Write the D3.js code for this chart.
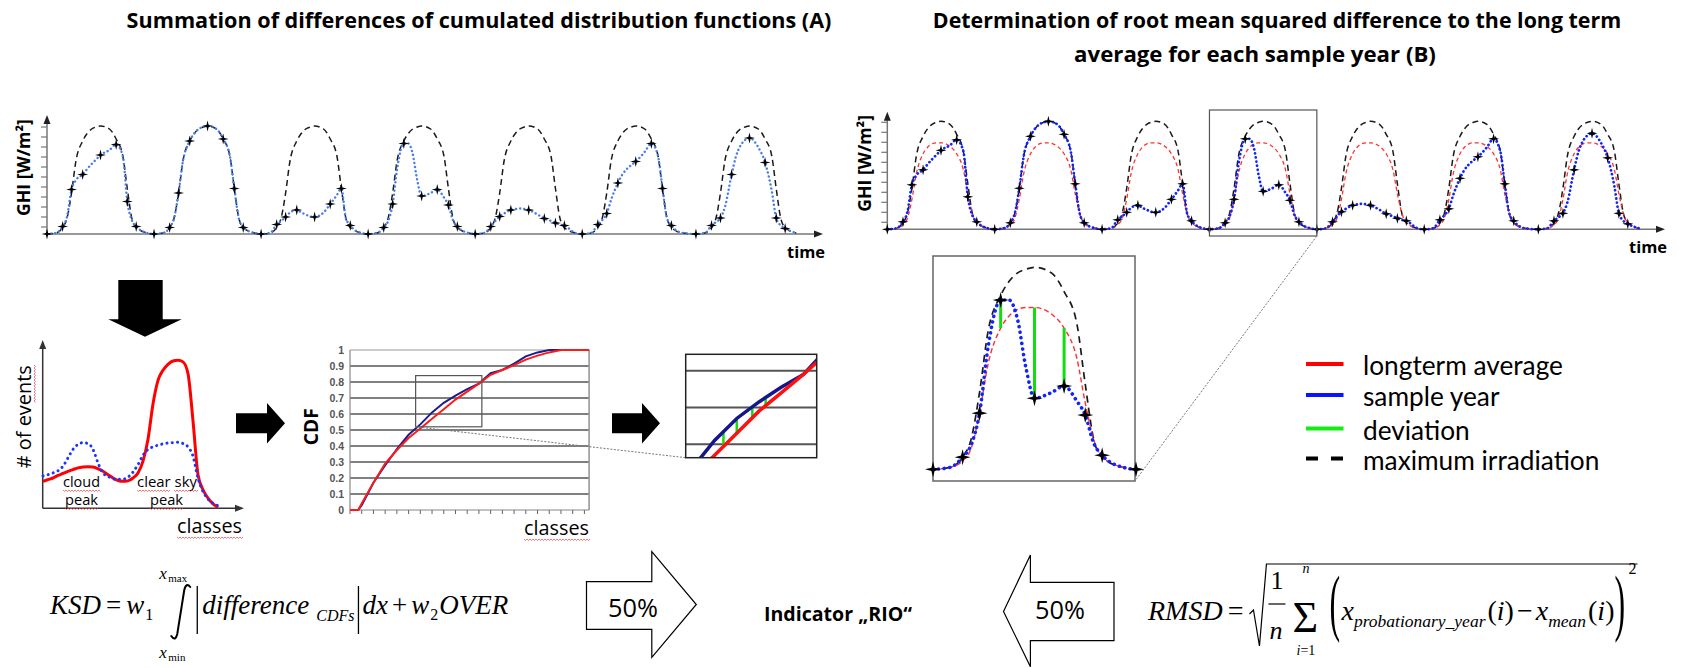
<!DOCTYPE html>
<html>
<head>
<meta charset="utf-8">
<script src="https://cdnjs.cloudflare.com/ajax/libs/d3/7.8.5/d3.min.js"></script>
<style>
  body { margin: 0; background: #fff; }
  svg { display: block; }
</style>
</head>
<body>
<svg id="chart" width="1682" height="668"></svg>
<script>
// ---- irradiation time series (hours, W/m2) ----
const dayHours = [0, 2, 3.5, 4.5, 5.5, 6.5, 8, 9, 10, 11, 12, 14, 15.5, 17, 18, 19, 20, 22.5]
const dayStarts = [0, 24, 48, 72, 96, 120, 145.5]
const markerHours = [0, 3.5, 5.5, 8, 12, 15.5, 18, 20]
const ghiTicks = [70, 170, 270, 370, 470, 570, 670, 770, 870, 970, 1070]

const maxIrradiation = [0, 10, 65, 160, 410, 735, 930, 1005, 1050, 1070, 1080, 1050, 950, 780, 455, 160, 65, 10]
const longtermAverage = [0, 10, 45, 110, 300, 560, 755, 820, 855, 865, 865, 830, 755, 595, 355, 160, 65, 10]
const sampleYear = [
  [0, 10, 75, 175, 445, 540, 595, 650, 700, 745, 790, 840, 895, 780, 325, 140, 75, 10],
  [0, 10, 65, 160, 410, 735, 930, 1005, 1050, 1070, 1080, 1050, 950, 780, 455, 160, 65, 10],
  [0, 10, 95, 130, 170, 215, 240, 215, 195, 175, 170, 215, 300, 390, 455, 160, 85, 10],
  [0, 10, 65, 130, 300, 650, 905, 905, 800, 540, 380, 410, 445, 365, 290, 140, 75, 10],
  [0, 10, 75, 130, 175, 205, 240, 250, 255, 250, 240, 195, 155, 130, 110, 95, 85, 10],
  [0, 10, 95, 140, 205, 345, 510, 595, 650, 690, 725, 820, 905, 780, 455, 160, 85, 10],
  [0, 10, 85, 120, 160, 270, 595, 780, 885, 940, 960, 865, 715, 430, 160, 85, 55, 10]
]
const zoomDay = 3
const deviationHours = [8, 12, 15.5]

// ---- histogram of classes (# of events) ----
const histLongterm = [16, 17, 18, 19.5, 20.7, 22, 23, 24, 24.5, 24.7, 24.5, 23.5, 22, 20, 18, 16.5, 16, 16.3, 18, 21, 28, 41, 62, 76, 82, 85.5, 87.5, 88, 87, 80, 52, 20, 11, 6, 2.6, 0.5]
const histSample = [19.2, 20, 21, 22.3, 25, 30, 35, 38, 39, 38.5, 35, 27, 21, 19, 17.6, 17.2, 17.3, 18.5, 21.5, 26, 31.5, 35, 36.5, 37.5, 38.3, 38.8, 39, 39.2, 38.5, 36.5, 31, 18, 10, 5.5, 3, 1.5]

// ---- cumulated distribution functions ----
const cdfClasses = [0, 0.7, 1, 2, 3, 4, 5, 6, 7, 8, 9, 10, 11, 12, 13, 14, 15, 16, 17, 18, 19, 20, 20.4]
const cdfSample = [0, 0, 0.03, 0.17, 0.28, 0.38, 0.47, 0.535, 0.61, 0.67, 0.715, 0.755, 0.79, 0.855, 0.875, 0.915, 0.96, 0.985, 1, 1, 1, 1, 1]
const cdfLongterm = [0, 0, 0.04, 0.17, 0.29, 0.375, 0.45, 0.51, 0.57, 0.63, 0.69, 0.74, 0.79, 0.845, 0.875, 0.905, 0.94, 0.965, 0.985, 1, 1, 1, 1]
const cdfTicks = [0, 0.1, 0.2, 0.3, 0.4, 0.5, 0.6, 0.7, 0.8, 0.9, 1]
const cdfTickClasses = [0, 1, 2, 3, 4, 5, 6, 7, 8, 9, 10, 11, 12, 13, 14, 15, 16, 17, 18, 19, 20]
const cdfZoomBox = { classes: [5.6, 11.25], values: [0.52, 0.84] }
const cdfPanel = { classes: [5.7, 11.6], values: [0.563, 0.845], grid: [0.6, 0.7, 0.8] }
const cdfDeviationClasses = [7.4, 8, 8.7, 9.3]

const legendLabels = ['longterm average', 'sample year', 'deviation', 'maximum irradiation']

const svg = d3.select('#chart')
const sans = '"Open Sans", sans-serif'
const serif = '"Liberation Serif", "Times New Roman", serif'

function fit(sel, w) {
  const fs = parseFloat(sel.attr('font-size'))
  const len = sel.node().getComputedTextLength()
  sel.attr('font-size', fs * w / len)
}

function label(g, x, y, txt, size, w, opts = {}) {
  const t = g.append('text')
    .attr('x', x).attr('y', y)
    .attr('text-anchor', opts.anchor || 'middle')
    .attr('font-family', opts.family || sans)
    .attr('font-size', size)
    .attr('font-weight', opts.bold ? 'bold' : 'normal')
    .attr('fill', opts.fill || '#000')
    .text(txt)
  if (w) fit(t, w)
  if (opts.rotate) t.attr('transform', `rotate(-90,${x},${y})`)
  return t
}

function squiggle(g, x1, x2, y) {
  let d = `M${x1},${y}`
  for (let x = x1, k = 0; x < x2; x += 1.5, k++) d += `L${x + 1.5},${y + (k % 2 ? 0 : 1.4)}`
  g.append('path').attr('d', d).attr('fill', 'none').attr('stroke', '#e04040').attr('stroke-width', 0.7)
}

const star = {
  draw(ctx, size) {
    const r = Math.sqrt(size), w = r * 0.2
    ctx.moveTo(0, -r); ctx.lineTo(w, -w); ctx.lineTo(r, 0); ctx.lineTo(w, w)
    ctx.lineTo(0, r); ctx.lineTo(-w, w); ctx.lineTo(-r, 0); ctx.lineTo(-w, -w); ctx.closePath()
  }
}

function arrowUp(g, x, y, col) {
  g.append('path').attr('d', `M${x},${y}L${x - 3.5},${y + 9}L${x + 3.5},${y + 9}Z`).attr('fill', col)
}
function arrowRight(g, x, y, col) {
  g.append('path').attr('d', `M${x},${y}L${x - 9},${y - 3.5}L${x - 9},${y + 3.5}Z`).attr('fill', col)
}

// ---- titles ----
const tg = svg.append('g')
label(tg, 479, 28, 'Summation of differences of cumulated distribution functions (A)', 18, 705, { bold: true })
label(tg, 1277, 28, 'Determination of root mean squared difference to the long term', 18, 689, { bold: true })
label(tg, 1255, 62, 'average for each sample year (B)', 18, 362, { bold: true })

// ---- day charts ----
const daySeries = perDay => dayStarts.flatMap((s, d) => dayHours.map((h, i) => ({ t: s + h, v: perDay(d)[i] })))
const maxPts = daySeries(() => maxIrradiation)
const avgPts = daySeries(() => longtermAverage)
const samplePts = daySeries(d => sampleYear[d])
const markerPts = dayStarts.flatMap((s, d) => markerHours.map(h => ({ t: s + h, v: sampleYear[d][dayHours.indexOf(h)] })))

function dayChart(o) {
  const x = d3.scaleLinear([0, 168], [o.x0, o.x1])
  const y = d3.scaleLinear([0, 1100], [o.base, o.base - 110])
  const g = svg.append('g')
  const line = d3.line().x(d => x(d.t)).y(d => y(d.v)).curve(d3.curveMonotoneX)

  g.append('line').attr('x1', o.x0).attr('x2', o.x0).attr('y1', o.base).attr('y2', o.top + 8)
    .attr('stroke', '#777').attr('stroke-width', 1.5)
  arrowUp(g, o.x0, o.top, '#222')
  g.selectAll('line.tick').data(ghiTicks).join('line').attr('class', 'tick')
    .attr('x1', o.x0 - 6).attr('x2', o.x0).attr('y1', d => y(d)).attr('y2', d => y(d))
    .attr('stroke', '#777').attr('stroke-width', 1.2)
  g.append('line').attr('x1', o.x0).attr('x2', o.xEnd - 8).attr('y1', o.base).attr('y2', o.base)
    .attr('stroke', '#777').attr('stroke-width', 1.5)
  arrowRight(g, o.xEnd, o.base, '#222')

  g.append('path').attr('d', line(maxPts)).attr('fill', 'none')
    .attr('stroke', '#1a1a1a').attr('stroke-width', 1.5).attr('stroke-dasharray', '6,4')
  if (o.avg) {
    g.append('path').attr('d', line(avgPts)).attr('fill', 'none')
      .attr('stroke', '#ff3030').attr('stroke-width', 1.3).attr('stroke-dasharray', '4,3')
  }
  g.append('path').attr('d', line(samplePts)).attr('fill', 'none')
    .attr('stroke', o.blue).attr('stroke-width', o.blueWidth).attr('stroke-linecap', 'round')
    .attr('stroke-dasharray', '0.1,4')
  g.selectAll('path.mk').data(markerPts).join('path').attr('class', 'mk')
    .attr('transform', d => `translate(${x(d.t)},${y(d.v)})`)
    .attr('d', d3.symbol().type(star).size(30)).attr('fill', '#000')

  label(g, o.labelX, o.labelY, 'GHI [W/m²]', 16, 97, { bold: true, rotate: true })
  label(g, o.timeX, o.timeY, 'time', 18, 38, { bold: true })
  return { x, y }
}

dayChart({ x0: 47, x1: 796.3, xEnd: 823, base: 234, top: 115, blue: '#4a7de6', blueWidth: 2.4,
  labelX: 30, labelY: 167.5, timeX: 806, timeY: 258 })
const right = dayChart({ x0: 887.3, x1: 1639, xEnd: 1665, base: 229.3, top: 111.7, avg: true, blue: '#1024ff', blueWidth: 2.7,
  labelX: 871, labelY: 163.3, timeX: 1648, timeY: 253 })

// selection box and enlarged day
const t0 = dayStarts[zoomDay], t1 = dayStarts[zoomDay + 1]
const zg = svg.append('g')
zg.append('rect').attr('x', right.x(t0)).attr('y', 110).attr('width', right.x(t1) - right.x(t0)).attr('height', 126)
  .attr('fill', 'none').attr('stroke', '#555').attr('stroke-width', 1.2)
const inset = { x: 933, y: 256, w: 202, h: 225 }
zg.append('line').attr('x1', right.x(t1)).attr('y1', 236).attr('x2', inset.x + inset.w).attr('y2', inset.y + inset.h)
  .attr('stroke', '#777').attr('stroke-width', 1).attr('stroke-dasharray', '2,1.5')
zg.append('rect').attr('x', inset.x).attr('y', inset.y).attr('width', inset.w).attr('height', inset.h)
  .attr('fill', '#fff').attr('stroke', '#666').attr('stroke-width', 1.5)

const ix = d3.scaleLinear([t0, t1], [inset.x, inset.x + inset.w + 1])
const iy = d3.scaleLinear([0, 1080], [469.3, 267.3])
const iline = d3.line().x(d => ix(d.t)).y(d => iy(d.v)).curve(d3.curveMonotoneX)
const inDay = d => d.t >= t0 && d.t <= t1
zg.append('path').attr('d', iline(maxPts.filter(inDay))).attr('fill', 'none')
  .attr('stroke', '#1a1a1a').attr('stroke-width', 1.7).attr('stroke-dasharray', '7,5')
zg.append('path').attr('d', iline(avgPts.filter(inDay))).attr('fill', 'none')
  .attr('stroke', '#ff3030').attr('stroke-width', 1.4).attr('stroke-dasharray', '5,3')
zg.selectAll('line.dev').data(deviationHours).join('line').attr('class', 'dev')
  .attr('x1', h => ix(t0 + h)).attr('x2', h => ix(t0 + h))
  .attr('y1', h => iy(longtermAverage[dayHours.indexOf(h)]))
  .attr('y2', h => iy(sampleYear[zoomDay][dayHours.indexOf(h)]))
  .attr('stroke', '#11dd11').attr('stroke-width', 3)
zg.append('path').attr('d', iline(samplePts.filter(inDay))).attr('fill', 'none')
  .attr('stroke', '#1024ff').attr('stroke-width', 3.6).attr('stroke-linecap', 'round').attr('stroke-dasharray', '0.1,5.5')
zg.selectAll('path.mk').data(markerPts.filter(inDay)).join('path').attr('class', 'mk')
  .attr('transform', d => `translate(${ix(d.t)},${iy(d.v)})`)
  .attr('d', d3.symbol().type(star).size(64)).attr('fill', '#000')

// legend
const lg = svg.append('g')
const legendRows = [364, 395, 428.5, 458.5]
const legendColors = ['#ff0000', '#0a14ff', '#11ee11', '#000']
legendLabels.forEach((txt, i) => {
  lg.append('line').attr('x1', 1306).attr('x2', 1343.5).attr('y1', legendRows[i]).attr('y2', legendRows[i])
    .attr('stroke', legendColors[i]).attr('stroke-width', 4)
    .attr('stroke-dasharray', i === 3 ? '12,13' : null)
  const t = label(lg, 1363, legendRows[i] + 11, txt, 22, null, { anchor: 'start', family: 'Lato, sans-serif' })
  if (i === 0) fit(t, 200)
  if (i > 0) t.attr('font-size', lg.select('text').attr('font-size'))
})

// ---- flow arrows ----
const ag = svg.append('g')
ag.append('path').attr('d', 'M118.3,280H162.7V319.3H181.7L145,336.7L108.3,319.3H118.3Z').attr('fill', '#000')
ag.append('path').attr('d', 'M236,413.3H267V403L285,423.3L267,443.6V433.3H236Z').attr('fill', '#000')
ag.append('path').attr('d', 'M612,413.3H642V403L660,423.3L642,443.6V433.3H612Z').attr('fill', '#000')

// ---- histogram ----
const hg = svg.append('g')
const hx = d3.scaleLinear([0, histLongterm.length - 1], [43, 218])
const hy = d3.scaleLinear([0, 100], [508.3, 340])
const hline = d3.line().x((d, i) => hx(i)).y(d => hy(d)).curve(d3.curveMonotoneX)
hg.append('line').attr('x1', 42.7).attr('x2', 42.7).attr('y1', 508.3).attr('y2', 348).attr('stroke', '#333').attr('stroke-width', 1.5)
arrowUp(hg, 42.7, 340, '#333')
hg.append('line').attr('x1', 42.7).attr('x2', 236).attr('y1', 508.3).attr('y2', 508.3).attr('stroke', '#333').attr('stroke-width', 1.5)
arrowRight(hg, 244, 508.3, '#333')
hg.append('path').attr('d', hline(histLongterm)).attr('fill', 'none').attr('stroke', '#ff0000').attr('stroke-width', 3)
hg.append('path').attr('d', hline(histSample)).attr('fill', 'none').attr('stroke', '#1a35ff')
  .attr('stroke-width', 3).attr('stroke-linecap', 'round').attr('stroke-dasharray', '0.1,5.2')
label(hg, 31, 416.7, '# of events', 17, 103, { rotate: true })
hg.append('path').attr('d', d3.range(365, 404, 1.5).map((y, k) => `${k ? 'L' : 'M'}${34 + (k % 2 ? 1.4 : 0)},${y}`).join(''))
  .attr('fill', 'none').attr('stroke', '#e04040').attr('stroke-width', 0.7)
label(hg, 81.5, 487, 'cloud', 15, 37)
label(hg, 81.5, 505, 'peak', 15, 33)
label(hg, 167, 487, 'clear sky', 15, 60)
label(hg, 166.5, 505, 'peak', 15, 33)
squiggle(hg, 63, 100, 490); squiggle(hg, 65, 98, 508)
squiggle(hg, 137, 170, 490); squiggle(hg, 174, 197, 490); squiggle(hg, 150, 183, 508)
label(hg, 209.5, 533, 'classes', 18, 65)
squiggle(hg, 177, 242, 537)

// ---- CDF chart ----
const cg = svg.append('g')
const cx = d3.scaleLinear([0, 20], [350, 584.4])
const cy = d3.scaleLinear([0, 1], [510, 350])
const cdfRight = cx(20.4)
cg.selectAll('line.grid').data(cdfTicks.filter(v => v > 0 && v < 1)).join('line').attr('class', 'grid')
  .attr('x1', 350).attr('x2', cdfRight).attr('y1', d => cy(d)).attr('y2', d => cy(d))
  .attr('stroke', '#000').attr('stroke-width', 1)
cg.append('line').attr('x1', 350).attr('x2', cdfRight).attr('y1', cy(1)).attr('y2', cy(1)).attr('stroke', '#999').attr('stroke-width', 1.2)
cg.append('line').attr('x1', cdfRight).attr('x2', cdfRight).attr('y1', cy(1)).attr('y2', cy(0)).attr('stroke', '#999').attr('stroke-width', 1.6)
cg.append('line').attr('x1', 350).attr('x2', 350).attr('y1', cy(1)).attr('y2', cy(0)).attr('stroke', '#888').attr('stroke-width', 1.2)
cg.append('line').attr('x1', 350).attr('x2', cdfRight).attr('y1', cy(0)).attr('y2', cy(0)).attr('stroke', '#888').attr('stroke-width', 1.2)
cg.selectAll('line.xt').data(cdfTickClasses).join('line').attr('class', 'xt')
  .attr('x1', d => cx(d)).attr('x2', d => cx(d)).attr('y1', 510).attr('y2', 514).attr('stroke', '#666')
cg.selectAll('text.yl').data(cdfTicks).join('text').attr('class', 'yl')
  .attr('x', 344).attr('y', d => cy(d) + 4).attr('text-anchor', 'end')
  .attr('font-family', '"Liberation Sans", Arial, sans-serif').attr('font-size', 10.5).attr('font-weight', 'bold')
  .attr('fill', '#555').text(d => String(d))
const cline = (xs, ys) => d3.line().x((d, i) => xs(cdfClasses[i])).y(d => ys(d))
cg.append('path').attr('d', cline(cx, cy)(cdfSample)).attr('fill', 'none').attr('stroke', '#1c1c8c').attr('stroke-width', 2)
cg.append('path').attr('d', cline(cx, cy)(cdfLongterm)).attr('fill', 'none').attr('stroke', '#ff1a1a').attr('stroke-width', 2)
cg.append('rect').attr('x', cx(cdfZoomBox.classes[0])).attr('y', cy(cdfZoomBox.values[1]))
  .attr('width', cx(cdfZoomBox.classes[1]) - cx(cdfZoomBox.classes[0]))
  .attr('height', cy(cdfZoomBox.values[0]) - cy(cdfZoomBox.values[1]))
  .attr('fill', 'none').attr('stroke', '#555').attr('stroke-width', 1.2)
label(cg, 318, 426.7, 'CDF', 18, 37, { bold: true, rotate: true })
label(cg, 556.5, 535, 'classes', 18, 65)
squiggle(cg, 524, 589, 539)

// enlarged CDF panel
const panel = { x: 685.7, y: 354.3, w: 131, h: 103.4 }
cg.append('line').attr('x1', cx(cdfZoomBox.classes[0])).attr('y1', cy(cdfZoomBox.values[0]))
  .attr('x2', panel.x).attr('y2', panel.y + panel.h)
  .attr('stroke', '#777').attr('stroke-width', 1).attr('stroke-dasharray', '2,1.5')
const px = d3.scaleLinear(cdfPanel.classes, [panel.x, panel.x + panel.w])
const py = d3.scaleLinear(cdfPanel.values, [panel.y + panel.h, panel.y])
svg.append('clipPath').attr('id', 'pclip').append('rect')
  .attr('x', panel.x).attr('y', panel.y).attr('width', panel.w).attr('height', panel.h)
cg.append('rect').attr('x', panel.x).attr('y', panel.y).attr('width', panel.w).attr('height', panel.h).attr('fill', '#fff')
const pg = cg.append('g').attr('clip-path', 'url(#pclip)')
pg.selectAll('line.pgrid').data(cdfPanel.grid).join('line').attr('class', 'pgrid')
  .attr('x1', panel.x).attr('x2', panel.x + panel.w).attr('y1', d => py(d)).attr('y2', d => py(d))
  .attr('stroke', '#555').attr('stroke-width', 2)
const sampleAt = d3.scaleLinear(cdfClasses, cdfSample)
const longAt = d3.scaleLinear(cdfClasses, cdfLongterm)
pg.selectAll('line.dev').data(cdfDeviationClasses).join('line').attr('class', 'dev')
  .attr('x1', d => px(d)).attr('x2', d => px(d)).attr('y1', d => py(sampleAt(d))).attr('y2', d => py(longAt(d)))
  .attr('stroke', '#11dd11').attr('stroke-width', 2.5)
pg.append('path').attr('d', cline(px, py)(cdfSample)).attr('fill', 'none').attr('stroke', '#16168a').attr('stroke-width', 3.5)
pg.append('path').attr('d', cline(px, py)(cdfLongterm)).attr('fill', 'none').attr('stroke', '#ff1010').attr('stroke-width', 3.5)
cg.append('rect').attr('x', panel.x).attr('y', panel.y).attr('width', panel.w).attr('height', panel.h)
  .attr('fill', 'none').attr('stroke', '#222').attr('stroke-width', 1.5)

// ---- formulas ----
const fg = svg.append('g')
function piece(x, y, str, size, italic = true) {
  const t = fg.append('text').attr('x', x).attr('y', y).attr('font-family', serif)
    .attr('font-size', size).attr('font-style', italic ? 'italic' : 'normal').text(str)
  return x + t.node().getComputedTextLength()
}
function bar(x, y1, y2) {
  fg.append('line').attr('x1', x).attr('x2', x).attr('y1', y1).attr('y2', y2).attr('stroke', '#000').attr('stroke-width', 1.3)
  return x + 3
}

const fs = 27
let fx = 50
const fy = 614
fx = piece(fx, fy, 'KSD', fs)
fx = piece(fx + 5, fy, '=', fs, false) + 5
fx = piece(fx, fy, 'w', fs)
fx = piece(fx + 1, fy + 6, '1', 16, false)
const intX = fx + 22
// integral sign drawn as a stroke so the limits sit tight above and below it
fg.append('path')
  .attr('d', `M${intX + 9},${fy - 24}Q${intX + 11},${fy - 32} ${intX + 15},${fy - 27}` +
    `M${intX + 9},${fy - 24}L${intX + 2},${fy + 20}Q${intX},${fy + 28} ${intX - 4},${fy + 22}`)
  .attr('fill', 'none').attr('stroke', '#000').attr('stroke-width', 2).attr('stroke-linecap', 'round')
piece(intX - 16, fy - 35, 'x', 17); piece(intX - 7, fy - 32, 'max', 11, false)
piece(intX - 16, fy + 44, 'x', 17); piece(intX - 7, fy + 47, 'min', 11, false)
fx = intX + 22
fx = bar(fx, fy - 28, fy + 20)
fx = piece(fx + 2, fy, 'difference', fs)
fx = piece(fx + 7, fy + 7, 'CDFs', 16)
fx = bar(fx + 4, fy - 28, fy + 20)
fx = piece(fx + 1, fy, 'dx', fs)
fx = piece(fx + 4, fy, '+', fs, false)
fx = piece(fx + 4, fy, 'w', fs)
fx = piece(fx + 1, fy + 6, '2', 16, false)
fx = piece(fx + 1, fy, 'OVER', fs)

const rs = 28
let rx = 1148
const ry = 620
rx = piece(rx, ry, 'RMSD', rs)
rx = piece(rx + 5, ry, '=', rs, false) + 6
const radX = rx
rx += 19
const fracX = rx
piece(fracX + 2, ry - 31, '1', 26, false)
fg.append('line').attr('x1', fracX).attr('x2', fracX + 17).attr('y1', ry - 16).attr('y2', ry - 16).attr('stroke', '#000').attr('stroke-width', 1.2)
piece(fracX + 1, ry + 19, 'n', 26)
rx = fracX + 24
const sigX = rx
piece(sigX, ry + 12, 'Σ', 44, false)
piece(sigX + 10, ry - 47, 'n', 14)
piece(sigX + 4, ry + 35, 'i', 14); piece(sigX + 8, ry + 35, '=1', 14, false)
rx = sigX + 37
fg.append('text').attr('transform', `translate(${rx},${ry}) scale(1,2.3)`).attr('y', 3)
  .attr('font-family', serif).attr('font-size', 32).text('(')
rx += 12
rx = piece(rx, ry, 'x', rs)
rx = piece(rx, ry + 7, 'probationary_year', 17.5)
rx = piece(rx + 2, ry, '(', rs, false)
rx = piece(rx, ry, 'i', rs)
rx = piece(rx, ry, ')', rs, false)
rx = piece(rx + 3, ry, '−', rs, false)
rx = piece(rx + 3, ry, 'x', rs)
rx = piece(rx, ry + 7, 'mean', 17.5)
rx = piece(rx + 2, ry, '(', rs, false)
rx = piece(rx, ry, 'i', rs)
rx = piece(rx, ry, ')', rs, false)
fg.append('text').attr('transform', `translate(${rx},${ry}) scale(1,2.3)`).attr('y', 3)
  .attr('font-family', serif).attr('font-size', 32).text(')')
rx += 11
piece(rx + 3, ry - 46, '2', 16, false)
fg.append('path')
  .attr('d', `M${radX},${ry - 6}L${radX + 4},${ry - 10}L${radX + 10},${ry + 26}L${radX + 17},${ry - 56}H${rx + 12}`)
  .attr('fill', 'none').attr('stroke', '#000').attr('stroke-width', 1.2)

// ---- 50% arrows and indicator ----
const bg = svg.append('g')
bg.append('path').attr('d', 'M586.5,581.7H651.8V551.7L696.3,604.5L651.8,657.3V629.3H586.5Z')
  .attr('fill', '#fff').attr('stroke', '#000').attr('stroke-width', 1.2)
label(bg, 633, 617, '50%', 22, 50)
bg.append('path').attr('d', 'M1114,582.3H1030.4V555L1003.5,611.5L1030.4,666.7V640.7H1114Z')
  .attr('fill', '#fff').attr('stroke', '#000').attr('stroke-width', 1.2)
label(bg, 1060, 619, '50%', 22, 50)
label(bg, 764, 621, 'Indicator „RIO“', 20, 148, { anchor: 'start', bold: true })
</script>
</body>
</html>
